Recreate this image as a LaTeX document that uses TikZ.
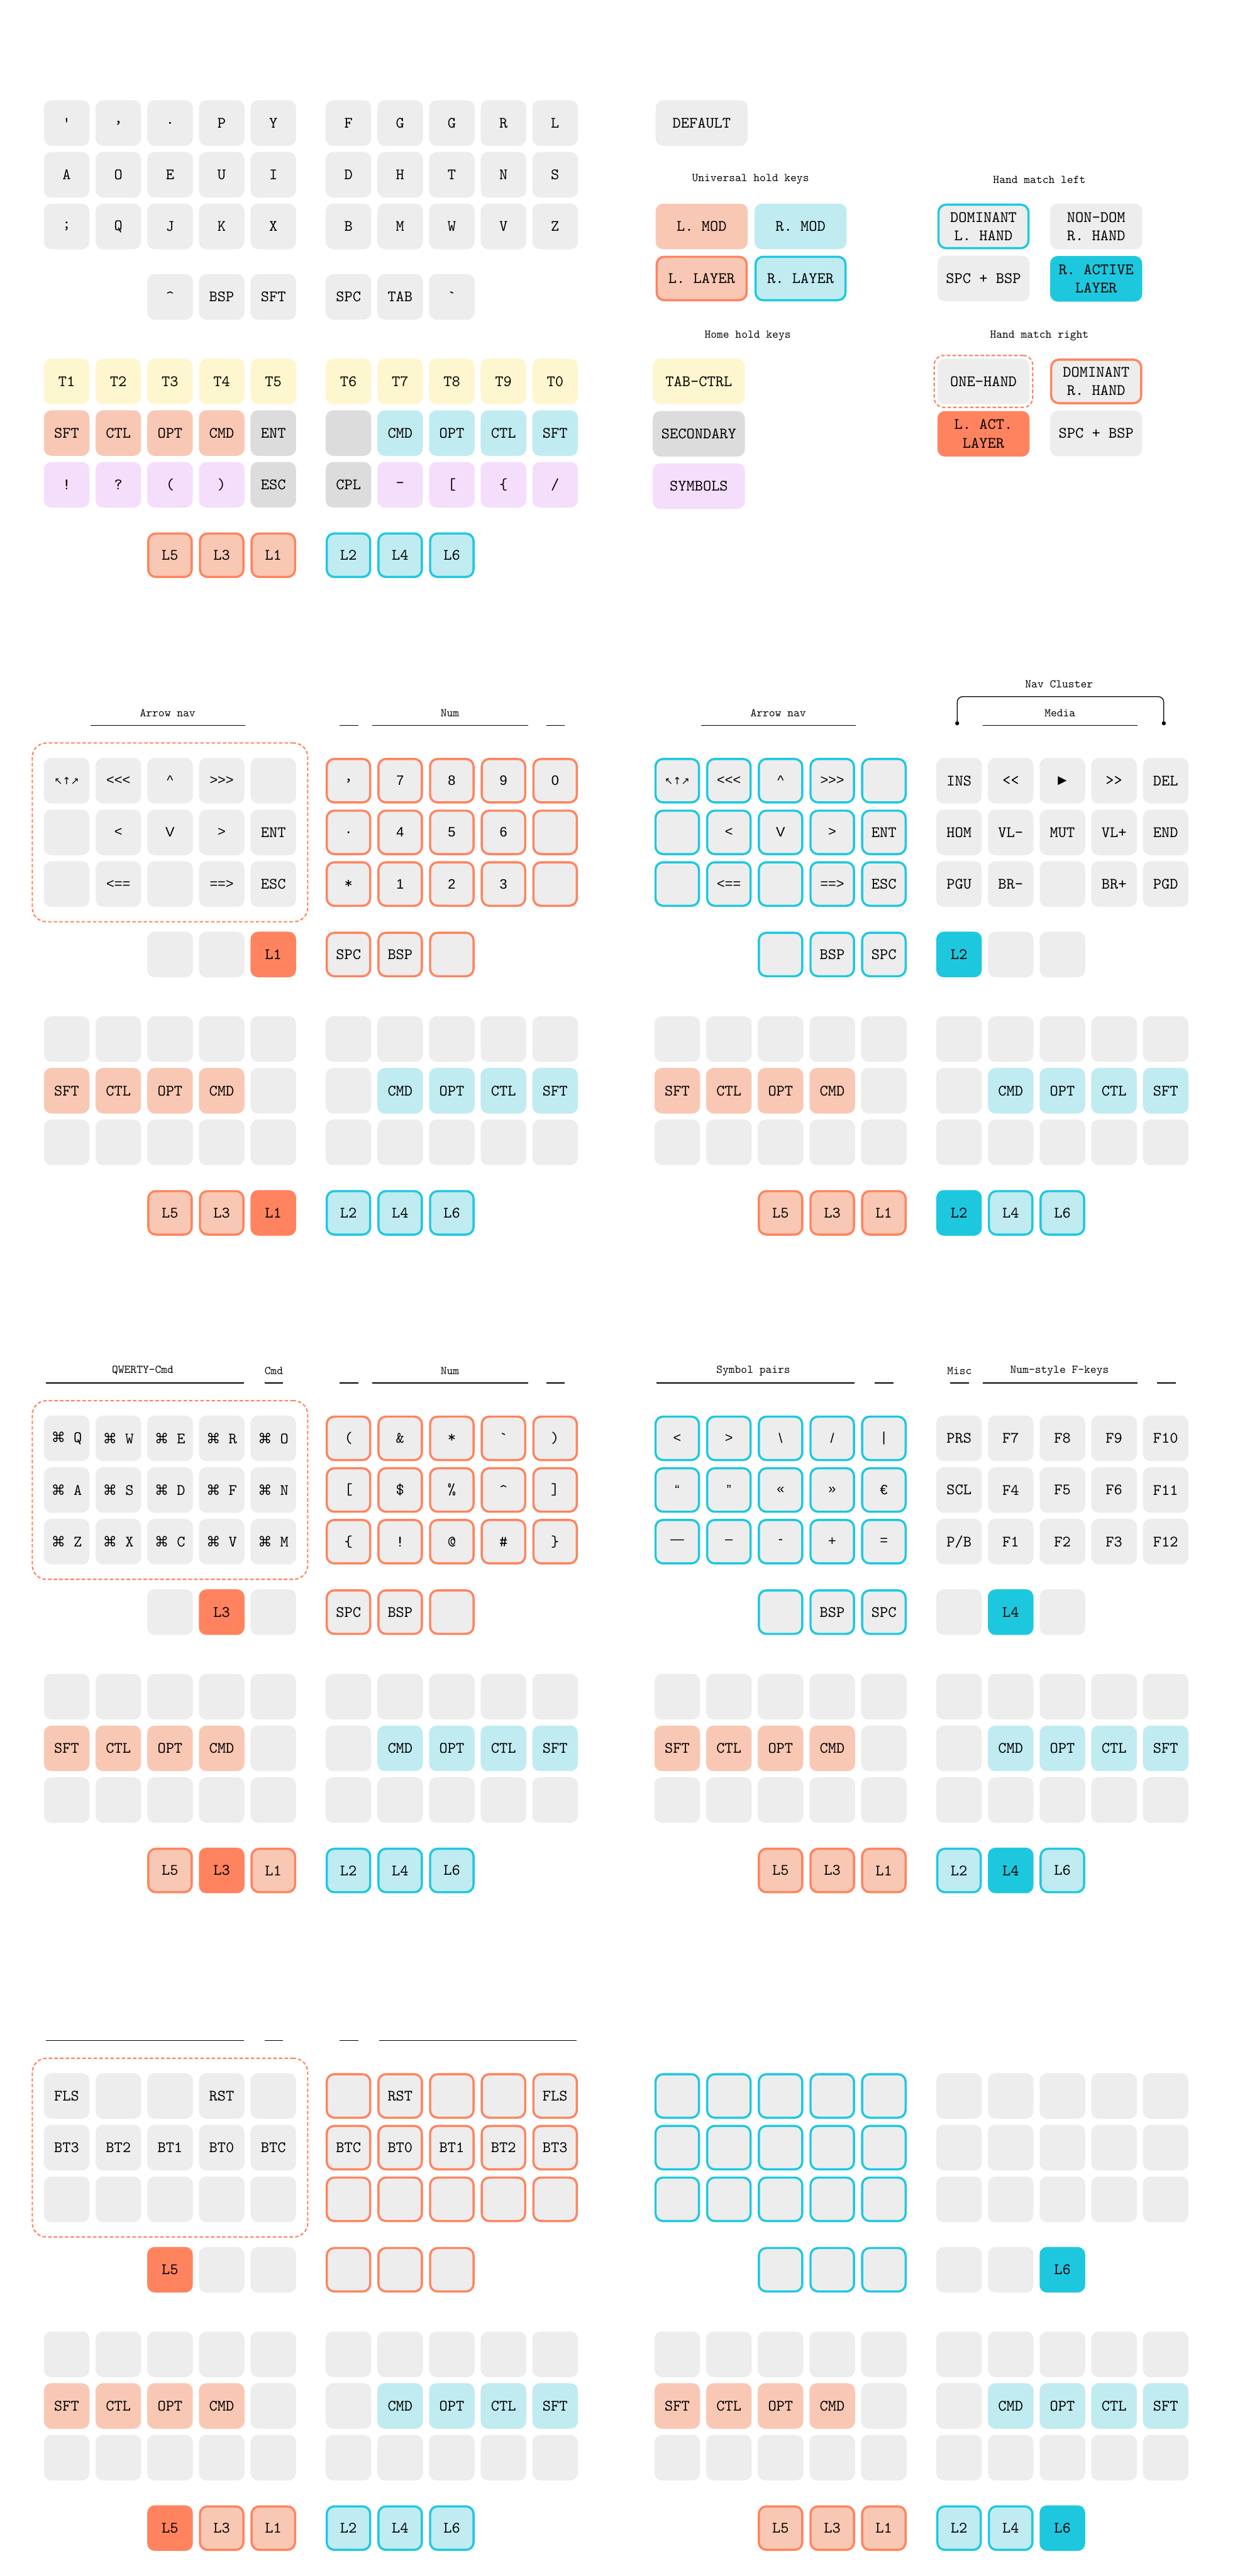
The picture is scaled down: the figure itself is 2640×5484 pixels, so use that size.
\documentclass[tikz,border=0pt]{standalone}
\usepackage{fontspec}
\newfontfamily\kf{lmmono10-regular.otf}[Ligatures=TeXOff]
\newfontfamily\ksf{Liberation Sans}[Ligatures=TeXOff,Scale=0.86]
\newfontfamily\ksym{DejaVu Sans}
\usetikzlibrary{arrows.meta,positioning,fit}
\definecolor{KeyGrey}{HTML}{EDEDED}
\definecolor{KeySec}{HTML}{DCDCDC}
\definecolor{KeyTab}{HTML}{FEF6CE}
\definecolor{KeySym}{HTML}{F4DEFC}
\definecolor{LeftMod}{HTML}{F9C8B4}
\definecolor{RightMod}{HTML}{C0EBF1}
\definecolor{LeftAct}{HTML}{FF835E}
\definecolor{RightAct}{HTML}{1DC8DF}
\newcommand\urow[5]{\foreach \lb [count=\i] in {#5}{\node[key,#4] (#1\i) at ({#2+110*(\i-1)},{#3}) {\lb};}}
\newcommand\krow[4]{\foreach \st/\lb [count=\i] in {#4}{\node[key,\st] (#1\i) at ({#2+110*(\i-1)},{#3}) {\lb};}}
\newcommand\blankrow[5]{\foreach \i in {1,...,#5}{\node[key,#4] (#1\i) at ({#2+110*(\i-1)},{#3}) {};}}
\newcommand\holdblock[5]{%
  \blankrow{#1ha}{#2+142}{#3}{}{5}
  \blankrow{#1hb}{#2+742}{#3}{}{5}
  \krow{#1hc}{#2+142}{#3+110}{lmod/SFT,lmod/CTL,lmod/OPT,lmod/CMD,key/{}}
  \krow{#1hd}{#2+742}{#3+110}{key/{},rmod/CMD,rmod/OPT,rmod/CTL,rmod/SFT}
  \blankrow{#1he}{#2+142}{#3+220}{}{5}
  \blankrow{#1hf}{#2+742}{#3+220}{}{5}
  \krow{#1lt}{#2+362}{#3+370}{#4}
  \krow{#1rt}{#2+742}{#3+370}{#5}}
\newcommand\secline[3]{\draw[ul] (#1,#3) -- (#2,#3);}
\newcommand\nwarr{{\ksym\fontsize{6}{7}\selectfont ↖↑↗}}
\newcommand\cmdk{{\ksym\fontsize{8.4}{10}\selectfont ⌘}~}

\begin{document}
\begin{tikzpicture}[x=0.01cm,y=-0.01cm,
  key/.style={rectangle,rounded corners=0.16cm,minimum size=0.97cm,inner sep=0pt,fill=KeyGrey,align=center,font=\kf\fontsize{9.6}{11.1}\selectfont},
  wide/.style={minimum width=1.96cm},
  sec/.style={fill=KeySec},
  tc/.style={fill=KeyTab},
  sym/.style={fill=KeySym},
  lmod/.style={fill=LeftMod},
  rmod/.style={fill=RightMod},
  lol/.style={draw=LeftAct,line width=1.3pt,minimum size=0.925cm},
  rol/.style={draw=RightAct,line width=1.3pt,minimum size=0.925cm},
  llay/.style={lol,fill=LeftMod},
  rlay/.style={rol,fill=RightMod},
  lact/.style={fill=LeftAct},
  ract/.style={fill=RightAct},
  ttl/.style={font=\kf\fontsize{7.1}{8}\selectfont,inner sep=0pt},
  ul/.style={line width=0.5pt},
  oneh/.style={draw=LeftAct,line width=0.8pt,dash pattern=on 2.1pt off 1.3pt,rounded corners=0.3cm,inner xsep=0.24cm,inner ysep=0.31cm}]
  \fill[white] (0,0) rectangle (2640,5484);

  \urow{s1a}{142}{262}{}{',{,},.,P,Y}
  \urow{s1b}{742}{262}{}{F,G,G,R,L}
  \urow{s1c}{142}{372}{}{A,O,E,U,I}
  \urow{s1d}{742}{372}{}{D,H,T,N,S}
  \urow{s1e}{142}{482}{}{;,Q,J,K,X}
  \urow{s1f}{742}{482}{}{B,M,W,V,Z}
  \urow{s1g}{362}{632}{}{\textasciicircum,BSP,SFT}
  \urow{s1h}{742}{632}{}{SPC,TAB,\textasciigrave}
  \urow{s1i}{142}{812}{tc}{T1,T2,T3,T4,T5}
  \urow{s1j}{742}{812}{tc}{T6,T7,T8,T9,T0}
  \krow{s1k}{142}{922}{lmod/SFT,lmod/CTL,lmod/OPT,lmod/CMD,sec/ENT}
  \krow{s1l}{742}{922}{sec/{},rmod/CMD,rmod/OPT,rmod/CTL,rmod/SFT}
  \krow{s1m}{142}{1032}{sym/!,sym/?,sym/{(},sym/{)},sec/ESC}
  \krow{s1n}{742}{1032}{sec/CPL,sym/-,sym/[,sym/\{,sym/{/}}
  \urow{s1o}{362}{1182}{llay}{L5,L3,L1}
  \urow{s1p}{742}{1182}{rlay}{L2,L4,L6}

  \node[key,wide] (lgDef) at (1494,262) {DEFAULT};
  \node[ttl] (lgUni) at (1598,382) {Universal hold keys};
  \node[key,wide,lmod] (lgLMod) at (1494,482) {L. MOD};
  \node[key,wide,rmod,right=0.13cm of lgLMod] (lgRMod) {R. MOD};
  \node[key,llay,minimum width=1.915cm,below=0.13cm of lgLMod] (lgLLay) {L. LAYER};
  \node[key,rlay,minimum width=1.915cm,below=0.13cm of lgRMod] (lgRLay) {R. LAYER};
  \node[ttl] (lgHome) at (1592,715) {Home hold keys};
  \node[key,wide,tc] (lgTab) at (1488,812) {TAB-CTRL};
  \node[key,wide,sec,below=0.13cm of lgTab] (lgSec) {SECONDARY};
  \node[key,wide,sym,below=0.13cm of lgSec] (lgSym) {SYMBOLS};
  \node[ttl] (lgHml) at (2213,382) {Hand match left};
  \node[key,rol,minimum width=1.915cm] (lgDomL) at (2094,482) {DOMINANT\\L. HAND};
  \node[key,wide] (lgNonL) at (2334,482) {NON-DOM\\R. HAND};
  \node[key,wide,below=0.13cm of lgDomL] (lgSbL) {SPC + BSP};
  \node[key,wide,ract,below=0.13cm of lgNonL] (lgActR) {R. ACTIVE\\LAYER};
  \node[ttl] (lgHmr) at (2213,715) {Hand match right};
  \node[key,wide] (lgOne) at (2094,812) {ONE-HAND};
  \node[oneh,fit=(lgOne),inner sep=0.06cm,rounded corners=0.2cm] (lgOneBox) {};
  \node[key,lol,minimum width=1.915cm] (lgDomR) at (2334,812) {DOMINANT\\R. HAND};
  \node[key,wide,lact,below=0.13cm of lgOne] (lgActL) {L. ACT.\\LAYER};
  \node[key,wide,below=0.13cm of lgDomR] (lgSbR) {SPC + BSP};

  \node[ttl] (s2t1) at (357,1518) {Arrow nav};
  \node[ttl] (s2t2) at (958,1518) {Num};
  \secline{193}{522}{1544} \secline{723}{763}{1544} \secline{793}{1124}{1544} \secline{1163}{1202}{1544}
  \urow{s2a}{142}{1662}{}{\nwarr,{\ksf <<<},{\ksf\textasciicircum},{\ksf >>>},{}}
  \urow{s2b}{142}{1772}{}{{},{\ksf <},{\ksf V},{\ksf >},ENT}
  \urow{s2c}{142}{1882}{}{{},{\ksf <==},{},{\ksf ==>},ESC}
  \krow{s2d}{362}{2032}{key/{},key/{},lact/L1}
  \urow{s2e}{742}{1662}{lol}{{,},{\ksf 7},{\ksf 8},{\ksf 9},{\ksf 0}}
  \urow{s2f}{742}{1772}{lol}{.,{\ksf 4},{\ksf 5},{\ksf 6},{}}
  \urow{s2g}{742}{1882}{lol}{*,{\ksf 1},{\ksf 2},{\ksf 3},{}}
  \urow{s2h}{742}{2032}{lol}{SPC,BSP,{}}
  \node[oneh,fit=(s2a1)(s2c5)] (s2box) {};
  \holdblock{s2}{0}{2212}{llay/L5,llay/L3,lact/L1}{rlay/L2,rlay/L4,rlay/L6}

  \node[ttl] (s2rt1) at (1657,1518) {Arrow nav};
  \secline{1493}{1822}{1544}
  \node[ttl] (s2rt2) at (2255,1456) {Nav Cluster};
  \node[ttl] (s2rt3) at (2257,1518) {Media};
  \secline{2093}{2422}{1544}
  \coordinate (navl) at (2038,1544);
  \coordinate (navr) at (2478,1544);
  \draw[ul,rounded corners=0.12cm,{Circle[length=2.4pt]}-{Circle[length=2.4pt]}] (navl) -- ++(0,-61) -| (navr);
  \urow{s2ra}{1442}{1662}{rol}{\nwarr,{\ksf <<<},{\ksf\textasciicircum},{\ksf >>>},{}}
  \urow{s2rb}{1442}{1772}{rol}{{},{\ksf <},{\ksf V},{\ksf >},ENT}
  \urow{s2rc}{1442}{1882}{rol}{{},{\ksf <==},{},{\ksf ==>},ESC}
  \urow{s2rd}{1662}{2032}{rol}{{},BSP,SPC}
  \urow{s2re}{2042}{1662}{}{INS,<<,{\ksym\fontsize{7}{8}\selectfont ▶},>>,DEL}
  \urow{s2rf}{2042}{1772}{}{HOM,VL-,MUT,VL+,END}
  \urow{s2rg}{2042}{1882}{}{PGU,BR-,{},BR+,PGD}
  \krow{s2rh}{2042}{2032}{ract/L2,key/{},key/{}}
  \holdblock{s2r}{1300}{2212}{llay/L5,llay/L3,llay/L1}{ract/L2,rlay/L4,rlay/L6}

  \node[ttl] (s3t1) at (304,2918) {QWERTY-Cmd};
  \node[ttl] (s3t2) at (583,2918) {Cmd};
  \node[ttl] (s3t3) at (958,2918) {Num};
  \secline{98}{519}{2944} \secline{563}{603}{2944} \secline{723}{763}{2944} \secline{793}{1124}{2944} \secline{1163}{1202}{2944}
  \urow{s3a}{142}{3062}{}{\cmdk Q,\cmdk W,\cmdk E,\cmdk R,\cmdk O}
  \urow{s3b}{142}{3172}{}{\cmdk A,\cmdk S,\cmdk D,\cmdk F,\cmdk N}
  \urow{s3c}{142}{3282}{}{\cmdk Z,\cmdk X,\cmdk C,\cmdk V,\cmdk M}
  \krow{s3d}{362}{3432}{key/{},lact/L3,key/{}}
  \urow{s3e}{742}{3062}{lol}{{(},\&,*,\textasciigrave,{)}}
  \urow{s3f}{742}{3172}{lol}{[,\$,\%,\textasciicircum,]}
  \urow{s3g}{742}{3282}{lol}{\{,!,@,\#,\}}
  \urow{s3h}{742}{3432}{lol}{SPC,BSP,{}}
  \node[oneh,fit=(s3a1)(s3c5)] (s3box) {};
  \holdblock{s3}{0}{3612}{llay/L5,lact/L3,llay/L1}{rlay/L2,rlay/L4,rlay/L6}

  \node[ttl] (s3rt1) at (1604,2918) {Symbol pairs};
  \node[ttl] (s3rt2) at (2043,2918) {Misc};
  \node[ttl] (s3rt3) at (2256,2918) {Num-style F-keys};
  \secline{1398}{1819}{2944} \secline{1863}{1903}{2944} \secline{2023}{2063}{2944} \secline{2093}{2422}{2944} \secline{2463}{2503}{2944}
  \urow{s3ra}{1442}{3062}{rol}{{\ksf <},{\ksf >},{\ksf\textbackslash},{\ksf /},{\ksf |}}
  \urow{s3rb}{1442}{3172}{rol}{{\ksf “},{\ksf ”},{\ksf «},{\ksf »},{\ksf €}}
  \urow{s3rc}{1442}{3282}{rol}{{\ksf —},{\ksf –},{\ksf -},{\ksf +},{\ksf =}}
  \urow{s3rd}{1662}{3432}{rol}{{},BSP,SPC}
  \urow{s3re}{2042}{3062}{}{PRS,F7,F8,F9,F10}
  \urow{s3rf}{2042}{3172}{}{SCL,F4,F5,F6,F11}
  \urow{s3rg}{2042}{3282}{}{P/B,F1,F2,F3,F12}
  \krow{s3rh}{2042}{3432}{key/{},ract/L4,key/{}}
  \holdblock{s3r}{1300}{3612}{llay/L5,llay/L3,llay/L1}{rlay/L2,ract/L4,rlay/L6}

  \secline{98}{519}{4344} \secline{563}{603}{4344} \secline{723}{763}{4344} \secline{807}{1228}{4344}
  \urow{s4a}{142}{4462}{}{FLS,{},{},RST,{}}
  \urow{s4b}{142}{4572}{}{BT3,BT2,BT1,BT0,BTC}
  \blankrow{s4c}{142}{4682}{}{5}
  \krow{s4d}{362}{4832}{lact/L5,key/{},key/{}}
  \urow{s4e}{742}{4462}{lol}{{},RST,{},{},FLS}
  \urow{s4f}{742}{4572}{lol}{BTC,BT0,BT1,BT2,BT3}
  \blankrow{s4g}{742}{4682}{lol}{5}
  \blankrow{s4h}{742}{4832}{lol}{3}
  \node[oneh,fit=(s4a1)(s4c5)] (s4box) {};
  \holdblock{s4}{0}{5012}{lact/L5,llay/L3,llay/L1}{rlay/L2,rlay/L4,rlay/L6}

  \blankrow{s4ra}{1442}{4462}{rol}{5}
  \blankrow{s4rb}{1442}{4572}{rol}{5}
  \blankrow{s4rc}{1442}{4682}{rol}{5}
  \blankrow{s4rd}{1662}{4832}{rol}{3}
  \blankrow{s4re}{2042}{4462}{}{5}
  \blankrow{s4rf}{2042}{4572}{}{5}
  \blankrow{s4rg}{2042}{4682}{}{5}
  \krow{s4rh}{2042}{4832}{key/{},key/{},ract/L6}
  \holdblock{s4r}{1300}{5012}{llay/L5,llay/L3,llay/L1}{rlay/L2,rlay/L4,ract/L6}
\end{tikzpicture}
\end{document}
